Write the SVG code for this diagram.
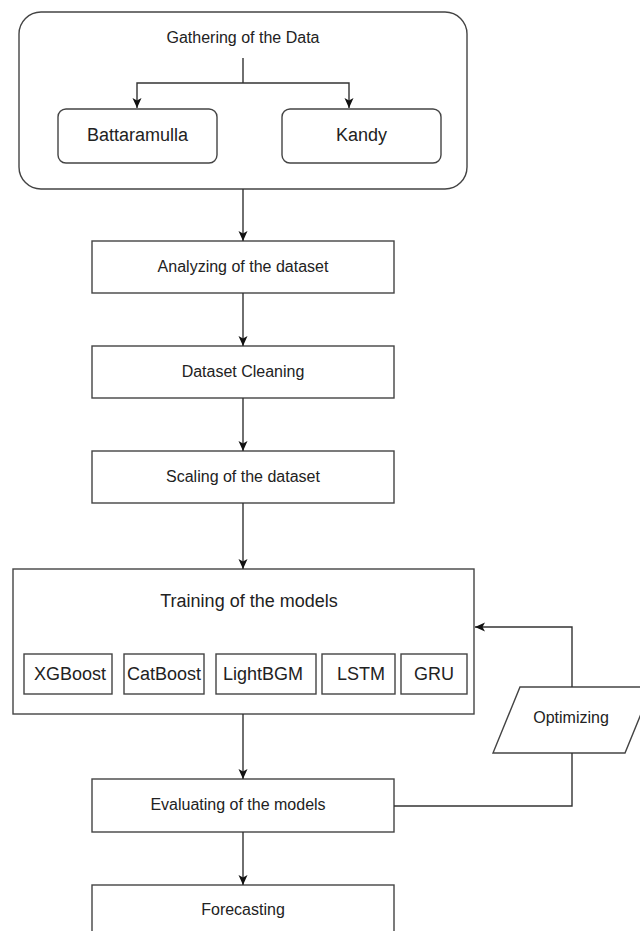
<svg xmlns="http://www.w3.org/2000/svg" width="640" height="931" viewBox="0 0 640 931">
<style>
.box{fill:#fff;stroke:#444;stroke-width:1.4}
.t{font-family:"Liberation Sans",Arial,sans-serif;fill:#222;text-anchor:middle}
.s16{font-size:16px}
.s18{font-size:18px}
.c{fill:none;stroke:#333;stroke-width:1.4}
</style>
<defs>
<marker id="ah" markerUnits="userSpaceOnUse" markerWidth="12" markerHeight="12" viewBox="0 0 12 12" refX="11" refY="6" orient="auto">
<path d="M1,1.5 L11,6 L1,10.5 L3.5,6 Z" fill="#111"/>
</marker>
</defs>
<rect width="640" height="931" fill="#fff"/>
<g id="gathering">
<rect class="box" x="19" y="12" width="448" height="177" rx="22"/>
<text class="t s16" x="243" y="43">Gathering of the Data</text>
</g>
<g id="battaramulla">
<rect class="box" x="58" y="109" width="159" height="54" rx="8"/>
<text class="t s18" x="137.5" y="141">Battaramulla</text>
</g>
<g id="kandy">
<rect class="box" x="282" y="109" width="159" height="54" rx="8"/>
<text class="t s18" x="361.5" y="141">Kandy</text>
</g>
<g id="analyzing">
<rect class="box" x="92" y="241" width="302" height="52"/>
<text class="t s16" x="243" y="272">Analyzing of the dataset</text>
</g>
<g id="cleaning">
<rect class="box" x="92" y="346" width="302" height="52"/>
<text class="t s16" x="243" y="377">Dataset Cleaning</text>
</g>
<g id="scaling">
<rect class="box" x="92" y="451" width="302" height="52"/>
<text class="t s16" x="243" y="482">Scaling of the dataset</text>
</g>
<g id="training">
<rect class="box" x="13" y="569" width="461" height="145"/>
<text class="t s18" x="249" y="607">Training of the models</text>
</g>
<g id="xgboost">
<rect class="box" x="24" y="654" width="88" height="40"/>
<text class="t s18" x="70" y="680">XGBoost</text>
</g>
<g id="catboost">
<rect class="box" x="124" y="654" width="80" height="40"/>
<text class="t s18" x="164" y="680">CatBoost</text>
</g>
<g id="lightbgm">
<rect class="box" x="216" y="654" width="100" height="40"/>
<text class="t s18" x="263" y="680">LightBGM</text>
</g>
<g id="lstm">
<rect class="box" x="322" y="654" width="73" height="40"/>
<text class="t s18" x="361" y="680">LSTM</text>
</g>
<g id="gru">
<rect class="box" x="401" y="654" width="66" height="40"/>
<text class="t s18" x="434" y="680">GRU</text>
</g>
<g id="optimizing">
<polygon class="box" points="520,687 652,687 625,753 493,753"/>
<text class="t s16" x="571" y="723">Optimizing</text>
</g>
<g id="evaluating">
<rect class="box" x="92" y="779" width="302" height="53"/>
<text class="t s16" x="238" y="810">Evaluating of the models</text>
</g>
<g id="forecasting">
<rect class="box" x="92" y="885" width="302" height="60"/>
<text class="t s16" x="243" y="915">Forecasting</text>
</g>
<g id="connectors">
<line class="c" x1="243" y1="58" x2="243" y2="83"/>
<path class="c" d="M243,83 H137 V108" marker-end="url(#ah)"/>
<path class="c" d="M243,83 H349 V108" marker-end="url(#ah)"/>
<line class="c" x1="243" y1="189" x2="243" y2="241" marker-end="url(#ah)"/>
<line class="c" x1="243" y1="293" x2="243" y2="346" marker-end="url(#ah)"/>
<line class="c" x1="243" y1="398" x2="243" y2="451" marker-end="url(#ah)"/>
<line class="c" x1="243" y1="503" x2="243" y2="569" marker-end="url(#ah)"/>
<line class="c" x1="243" y1="714" x2="243" y2="779" marker-end="url(#ah)"/>
<line class="c" x1="243" y1="832" x2="243" y2="885" marker-end="url(#ah)"/>
<path class="c" d="M394,806 H572 V753"/>
<path class="c" d="M572,687 V627 H475" marker-end="url(#ah)"/>
</g>
</svg>
